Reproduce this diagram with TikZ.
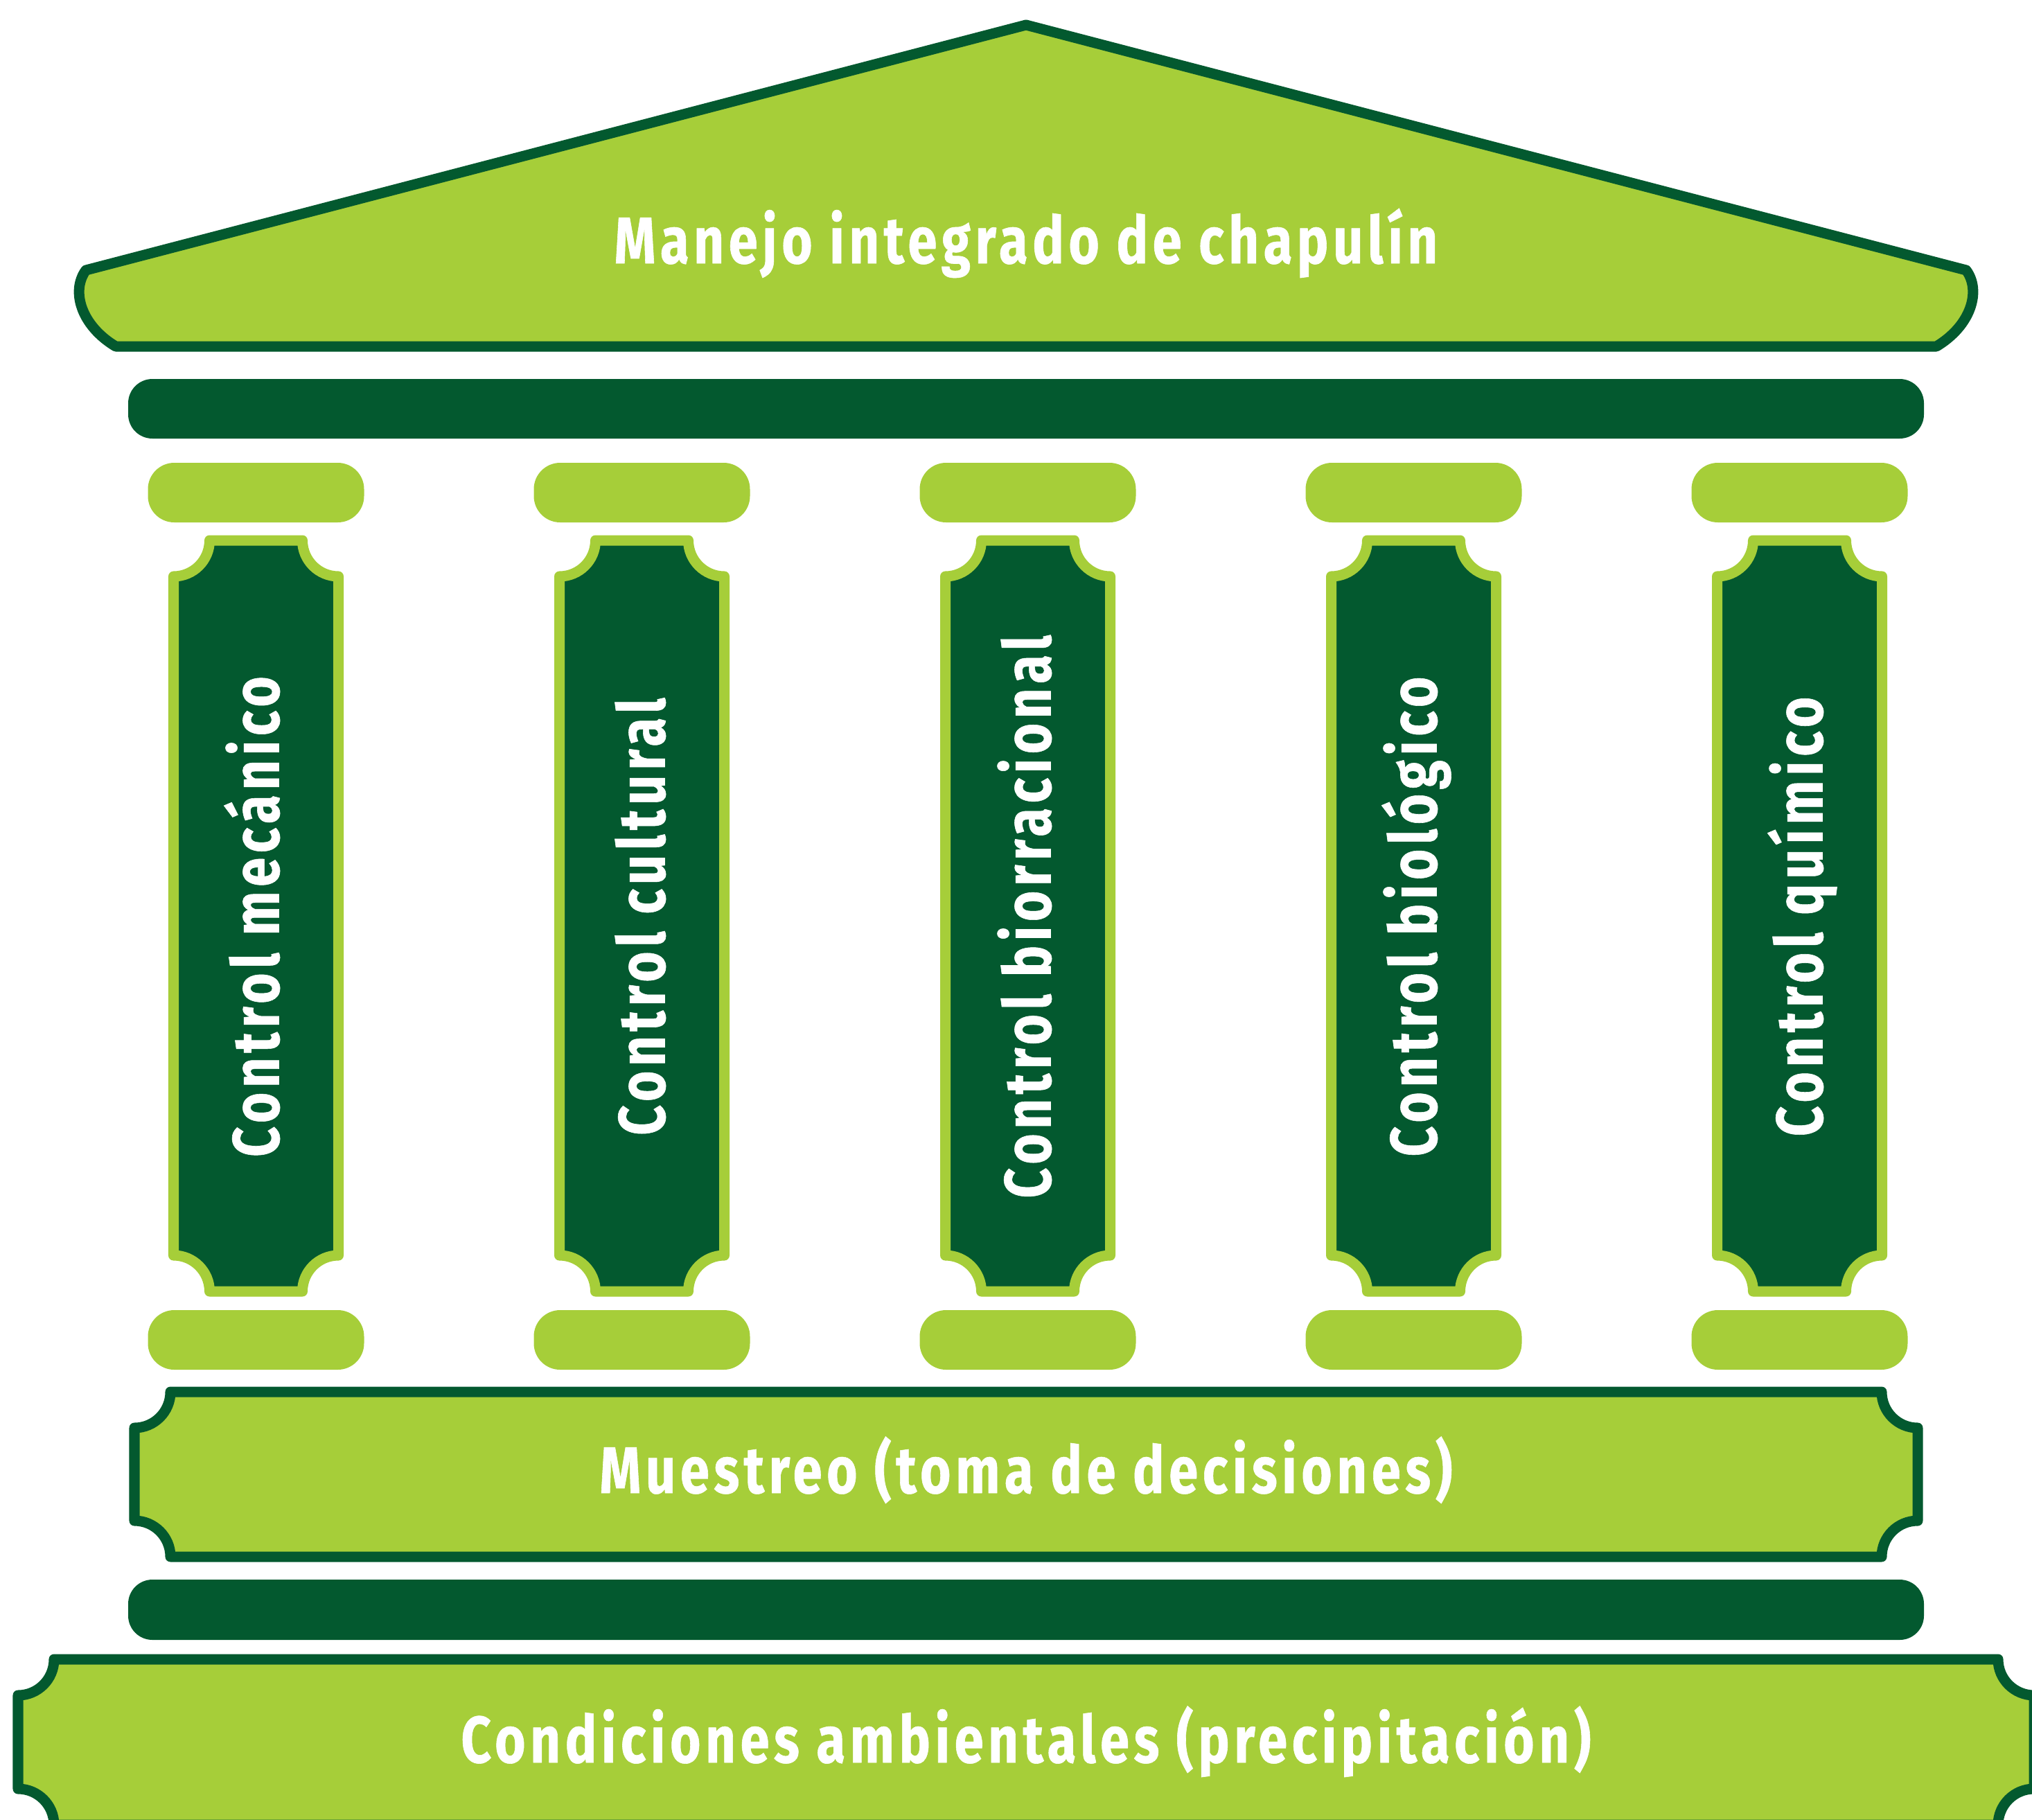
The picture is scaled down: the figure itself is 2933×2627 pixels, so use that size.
\documentclass[tikz,border=0pt]{standalone}
\usepackage{fontspec}
\newfontfamily\templefont{Fira Sans}[FakeStretch=0.8,LetterSpace=7,BoldFeatures={FakeBold=0.6}]
\definecolor{leafgreen}{HTML}{A6CE39}
\definecolor{pinegreen}{HTML}{03592F}
\tikzset{
  stone/.style={fill=leafgreen,draw=pinegreen,line width=0.15cm,line join=round},
  pillar/.style={fill=pinegreen,draw=leafgreen,line width=0.15cm,line join=round},
  label/.style={text=white,inner sep=0pt,anchor=base,font=\templefont\bfseries\fontsize{27}{32}\selectfont}
}
% box with four concave corners
\newcommand{\notchedbox}[5]{%
  \draw[#1] ({#2+52},#3) -- ({#4-52},#3) arc[start angle=180,end angle=90,radius=52]
    -- (#4,{#5-52}) arc[start angle=270,end angle=180,radius=52]
    -- ({#2+52},#5) arc[start angle=0,end angle=-90,radius=52]
    -- (#2,{#3+52}) arc[start angle=90,end angle=0,radius=52] -- cycle;}
\begin{document}
\begin{tikzpicture}[x=0.01cm,y=-0.01cm]
\useasboundingbox (0,0) rectangle (2933,2627);
\clip (0,0) rectangle (2933,2627);
%roof
\draw[stone] (1481,36) -- (2838,390) .. controls (2860,420) and (2845,470) .. (2795,500)
  -- (167,500) .. controls (117,470) and (102,420) .. (124,390) -- cycle;
\node[label] (title) at (1481,380) {Manejo integrado de chapulín};
\fill[pinegreen,rounded corners=0.35cm] (185,547) rectangle (2777,633);
%columns
\foreach \cx/\txt/\nm in {369.5/Control mecánico/mecanico,926.5/Control cultural/cultural,
  1483.5/Control biorracional/biorracional,2040.5/Control biológico/biologico,2597.5/Control químico/quimico}{
  \fill[leafgreen,rounded corners=0.38cm] (\cx-156,668) rectangle (\cx+156,754);
  \notchedbox{pillar}{\cx-119}{780}{\cx+119}{1864}
  \node[label,rotate=90] (\nm) at (\cx+33,1323) {\txt};
  \fill[leafgreen,rounded corners=0.38cm] (\cx-156,1891) rectangle (\cx+156,1977);
}
%base
\notchedbox{stone}{194}{2009}{2768}{2247}
\node[label] (muestreo) at (1481,2155) {Muestreo (toma de decisiones)};
\fill[pinegreen,rounded corners=0.35cm] (185,2280) rectangle (2777,2367);
\notchedbox{stone}{26}{2395}{2936}{2634}
\node[label] (condiciones) at (1481,2544) {Condiciones ambientales (precipitación)};
\end{tikzpicture}
\end{document}
